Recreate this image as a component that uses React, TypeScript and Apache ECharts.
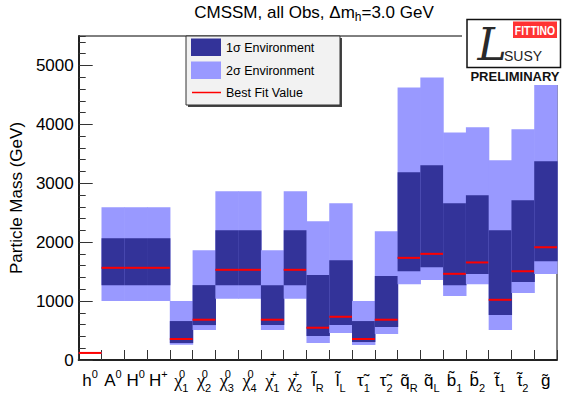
import React, { useEffect, useRef } from 'react';
import * as echarts from 'echarts';

// ---- data ----
const particleKeys = ['h0', 'A0', 'H0', 'H+', 'chi10', 'chi20', 'chi30', 'chi40', 'chi1+', 'chi2+', 'lR', 'lL', 'tau1', 'tau2', 'qR', 'qL', 'b1', 'b2', 't1', 't2', 'g'];
const particleBase = ['h', 'A', 'H', 'H', 'χ', 'χ', 'χ', 'χ', 'χ', 'χ', 'l\u0303', 'l\u0303', 'τ\u0303', 'τ\u0303', 'q\u0303', 'q\u0303', 'b\u0303', 'b\u0303', 't\u0303', 't\u0303', 'g\u0303'];
const particleSup = ['0', '0', '0', '+', '0', '0', '0', '0', '+', '+', '', '', '', '', '', '', '', '', '', '', ''];
const particleSub = ['', '', '', '', '1', '2', '3', '4', '1', '2', 'R', 'L', '1', '2', 'R', 'L', '1', '2', '1', '2', ''];

const sigma2Low = [113, 1000, 1000, 1000, 260, 508, 1040, 1040, 508, 1040, 288, 458, 254, 441, 1288, 1356, 1085, 1288, 508, 1136, 1458];
const sigma1Low = [116, 1271, 1271, 1271, 288, 593, 1271, 1271, 593, 1271, 407, 593, 305, 559, 1508, 1576, 1271, 1458, 763, 1322, 1678];
const bestFit = [120, 1565, 1565, 1565, 356, 684, 1531, 1531, 684, 1531, 548, 734, 356, 684, 1734, 1802, 1463, 1656, 1022, 1508, 1915];
const sigma1High = [124, 2068, 2068, 2068, 661, 1271, 2203, 2203, 1271, 2203, 1441, 1695, 661, 1424, 3186, 3305, 2661, 2797, 2203, 2712, 3373];
const sigma2High = [127, 2593, 2593, 2593, 1000, 1864, 2864, 2864, 1864, 2864, 2356, 2661, 1000, 2186, 4627, 4797, 3864, 3949, 3390, 3915, 4667];

const yMin = 0;
const yMax = 5500;
const yMajor = 1000;
const yMinor = 200;

// ---- styles ----
const FONT = '"Liberation Sans", Arial, Helvetica, sans-serif';
const SERIF = '"Liberation Serif", "DejaVu Serif", serif';
const C2 = '#9999ff';
const C1 = '#333399';
const CBEST = '#ff0000';

const rows = particleKeys.map((_, i) => [i, sigma2Low[i], sigma1Low[i], bestFit[i], sigma1High[i], sigma2High[i]]);

function labelFormatter(_v: string, idx: number) {
  const b = particleBase[idx];
  const sp = particleSup[idx];
  const sb = particleSub[idx];
  const base = b === 'χ' ? `{g|${b}}` : `{m|${b}}`;
  if (sp && sb) return `${base}{sz|${sp}}{sb|${sb}}`;
  if (sp) return `${base}{sp|${sp}}`;
  if (sb) return `${base}{sb|${sb}}`;
  return base;
}

function renderItem(_params: any, api: any) {
  const i = api.value(0);
  const lo2 = api.coord([i, api.value(1)]);
  const lo1 = api.coord([i, api.value(2)]);
  const best = api.coord([i, api.value(3)]);
  const hi1 = api.coord([i, api.value(4)]);
  const hi2 = api.coord([i, api.value(5)]);
  const w = api.size([1, 0])[0];
  const x = lo2[0] - w / 2;
  return {
    type: 'group',
    children: [
      { type: 'rect', shape: { x, y: hi2[1], width: w + 0.6, height: lo2[1] - hi2[1] }, style: { fill: C2 } },
      { type: 'rect', shape: { x, y: hi1[1], width: w + 0.6, height: lo1[1] - hi1[1] }, style: { fill: C1 } },
      { type: 'rect', shape: { x, y: best[1] - 1, width: w, height: 2 }, style: { fill: CBEST } },
    ],
  };
}

const option: any = {
  animation: false,
  backgroundColor: '#ffffff',
  title: {
    text: 'CMSSM, all Obs, Δm{sub|h}=3.0 GeV',
    left: 314,
    top: 1,
    padding: 0,
    textAlign: 'center',
    textStyle: {
      fontFamily: FONT,
      fontSize: 17,
      fontWeight: 'normal',
      color: '#000',
      lineHeight: 22,
      rich: {
        sub: { fontFamily: FONT, fontSize: 12, color: '#000', verticalAlign: 'bottom', lineHeight: 12 },
      },
    },
  },
  grid: {
    left: 78,
    right: 6,
    top: 36,
    bottom: 32,
    show: true,
    borderColor: '#000',
    borderWidth: 1,
    backgroundColor: 'transparent',
  },
  xAxis: {
    type: 'category',
    data: particleKeys,
    boundaryGap: true,
    axisLine: { lineStyle: { color: '#222', width: 2 } },
    axisTick: { show: true, inside: true, length: 10, alignWithLabel: false, interval: 0, lineStyle: { color: '#333', width: 1 } },
    axisLabel: {
      interval: 0,
      margin: 8,
      formatter: labelFormatter,
      rich: {
        m: { fontFamily: FONT, fontSize: 17, color: '#000', lineHeight: 25 },
        g: { fontFamily: SERIF, fontSize: 18, color: '#000', lineHeight: 25 },
        sp: { fontFamily: FONT, fontSize: 11, color: '#000', lineHeight: 11, verticalAlign: 'top' },
        sz: { fontFamily: FONT, fontSize: 11, color: '#000', lineHeight: 11, verticalAlign: 'top', width: 0 },
        sb: { fontFamily: FONT, fontSize: 11, color: '#000', lineHeight: 11, verticalAlign: 'bottom' },
      },
    },
    splitLine: { show: false },
  },
  yAxis: [
    {
      type: 'value',
      min: yMin,
      max: yMax,
      interval: yMajor,
      position: 'left',
      name: 'Particle Mass (GeV)',
      nameLocation: 'middle',
      nameRotate: 90,
      nameGap: 52,
      nameTextStyle: { fontFamily: FONT, fontSize: 17, color: '#000' },
      axisLine: { show: true, lineStyle: { color: '#222', width: 2 } },
      axisTick: { show: true, inside: true, length: 14, lineStyle: { color: '#333', width: 1 } },
      axisLabel: {
        margin: 5,
        fontFamily: FONT,
        fontSize: 17,
        color: '#000',
        showMaxLabel: false,
        formatter: (v: number) => (v % yMajor === 0 ? String(v) : ''),
      },
      splitLine: { show: false },
    },
    {
      type: 'value',
      min: yMin,
      max: yMax,
      interval: yMinor,
      position: 'left',
      axisLine: { show: false },
      axisTick: { show: true, inside: true, length: 7, lineStyle: { color: '#333', width: 1 } },
      axisLabel: { show: false },
      splitLine: { show: false },
    },
  ],
  series: [
    {
      type: 'custom',
      renderItem,
      data: rows,
      encode: { x: 0, y: [1, 2, 3, 4, 5] },
      xAxisIndex: 0,
      yAxisIndex: 0,
      clip: true,
      z: 2,
    },
  ],
  graphic: [
    // legend
    { type: 'rect', z: 100, shape: { x: 188, y: 38, width: 154, height: 69 }, style: { fill: '#444' } },
    { type: 'rect', z: 101, shape: { x: 186, y: 36, width: 154, height: 69 }, style: { fill: '#f2f2f2', stroke: '#333', lineWidth: 1 } },
    { type: 'rect', z: 102, shape: { x: 191, y: 38.5, width: 30, height: 17.5 }, style: { fill: C1 } },
    { type: 'rect', z: 102, shape: { x: 191, y: 61.5, width: 30, height: 17.5 }, style: { fill: C2 } },
    { type: 'line', z: 102, shape: { x1: 192, y1: 92.5, x2: 221, y2: 92.5 }, style: { stroke: CBEST, lineWidth: 1.5 } },
    { type: 'text', z: 102, style: { x: 226, y: 47.5, text: '1σ Environment', fontFamily: FONT, fontSize: 12.5, fill: '#000', verticalAlign: 'middle' } },
    { type: 'text', z: 102, style: { x: 226, y: 70.5, text: '2σ Environment', fontFamily: FONT, fontSize: 12.5, fill: '#000', verticalAlign: 'middle' } },
    { type: 'text', z: 102, style: { x: 226, y: 93, text: 'Best Fit Value', fontFamily: FONT, fontSize: 12.5, fill: '#000', verticalAlign: 'middle' } },
    // logo
    { type: 'rect', z: 110, shape: { x: 462, y: 17, width: 101, height: 68 }, style: { fill: '#ffffff' } },
    { type: 'rect', z: 111, shape: { x: 467, y: 19.5, width: 93.5, height: 48 }, style: { fill: '#ffffff', stroke: '#111', lineWidth: 1.5 } },
    { type: 'rect', z: 112, shape: { x: 513, y: 21.5, width: 44, height: 16.5 }, style: { fill: '#ff3333' } },
    { type: 'text', z: 113, x: 535, y: 30, scaleX: 0.8, style: { x: 0, y: 0, text: 'FITTINO', fontFamily: FONT, fontSize: 13, fontWeight: 'bold', fill: '#ffffff', align: 'center', verticalAlign: 'middle' } },
    { type: 'text', z: 113, style: { x: 492, y: 44, text: 'L', fontFamily: '"DejaVu Serif", serif', fontStyle: 'italic', fontSize: 44, fill: '#2a2a2a', align: 'center', verticalAlign: 'middle' } },
    { type: 'text', z: 113, style: { x: 523, y: 55.5, text: 'SUSY', fontFamily: FONT, fontSize: 14, fill: '#222', align: 'center', verticalAlign: 'middle' } },
    { type: 'text', z: 113, style: { x: 515, y: 76.5, text: 'PRELIMINARY', fontFamily: FONT, fontSize: 13, fontWeight: 'bold', fill: '#111', align: 'center', verticalAlign: 'middle' } },
  ],
};

export default function App() {
  const ref = useRef<HTMLDivElement>(null);
  useEffect(() => {
    const chart = echarts.init(ref.current as HTMLDivElement, null, { renderer: 'svg' });
    chart.setOption(option);
    return () => {
      chart.dispose();
    };
  }, []);
  return <div ref={ref} style={{ position: 'fixed', left: 0, top: 0, width: 563, height: 393 }} />;
}
